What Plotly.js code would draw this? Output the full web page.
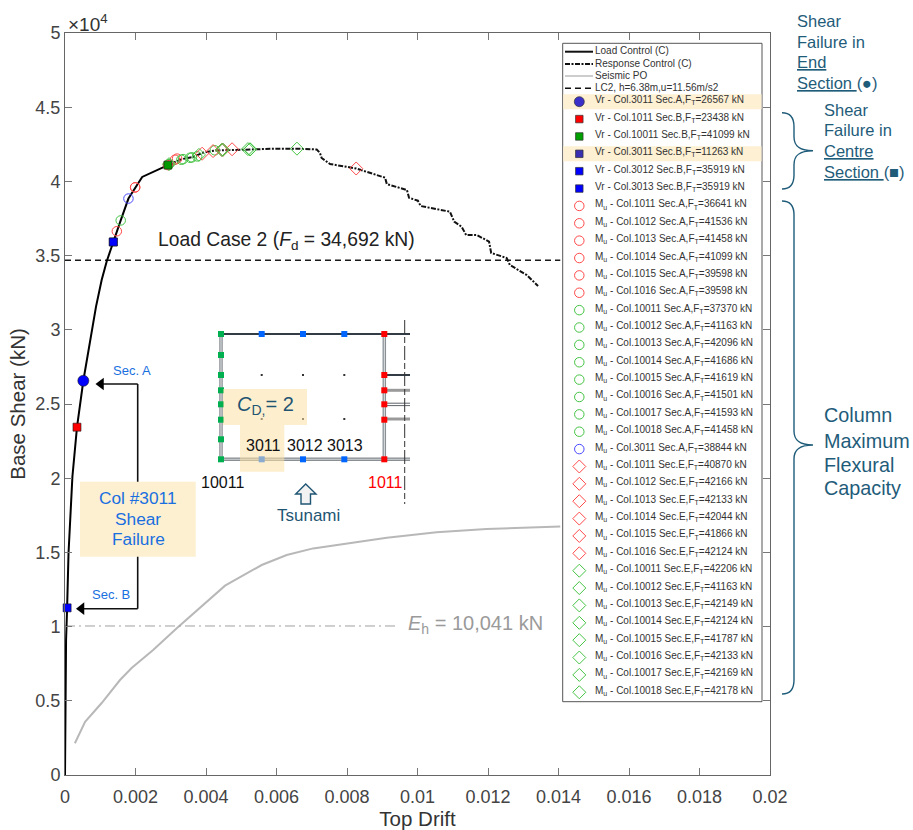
<!DOCTYPE html>
<html><head><meta charset="utf-8">
<script src="https://cdn.plot.ly/plotly-3.0.1.min.js"></script>
<style>html,body{margin:0;padding:0;background:#fff}#c{width:913px;height:830px}</style>
</head><body><div id="c"></div>
<script>
// ---- data ----
const loadDrift=[0,0.00003,0.00006,0.0001,0.00021,0.00034,0.00052,0.00062,0.00088,0.00104,0.00118,0.00137,0.00147,0.00158,0.0018,0.00199,0.00219,0.00292];
const loadShear=[0,9100,11263,14960,20100,23438,26567,27960,31560,33360,34590,35919,36641,37370,38844,39598,40300,41099];
const respDrift=[0.00292,0.00331,0.00363,0.00391,0.00425,0.00473,0.00525,0.00590,0.00657,0.00714,0.00723,0.00728,0.00752,0.00826,0.00908,0.00913,0.0097,0.00976,0.01001,0.01009,0.01092,0.01104,0.01125,0.01138,0.01168,0.01203,0.01209,0.01253,0.01262,0.0131,0.01342];
const respShear=[41099,41500,41640,41930,42080,42130,42150,42200,42206,42150,41930,41580,41170,40870,40250,39820,39420,38900,38700,38340,37960,37290,36950,36390,36390,35940,35180,34840,34370,33690,32950];
const poDrift=[0.00028,0.00057,0.00104,0.00156,0.00189,0.0025,0.00317,0.00454,0.00558,0.00629,0.00704,0.00799,0.00913,0.01054,0.01196,0.01405];
const poShear=[2136,3590,4850,6400,7210,8420,9885,12760,14150,14825,15270,15610,15990,16350,16570,16750];
const designShear=34692, designEnd=0.01405;
const eqShear=10041, eqEnd=0.00945;

const vrLabels=['Col.3011 Sec.A','Col.1011 Sec.B','Col.10011 Sec.B','Col.3011 Sec.B','Col.3012 Sec.B','Col.3013 Sec.B'];
const vrForce=[26567,23438,41099,11263,35919,35919];
const vrDrift=[0.00052,0.00034,0.00292,0.00006,0.00137,0.00137];
const vrColor=['#0000ff','#ff0000','#009a00','#0000ff','#0000ff','#0000ff'];
const vrKeyColor=['#3a2fc8','#ff0000','#00a000','#3a2fb0','#0000ff','#0000ff'];
const vrSymbol=['circle','square','square','square','square','square'];

const muLabels=['Col.1011 Sec.A','Col.1012 Sec.A','Col.1013 Sec.A','Col.1014 Sec.A','Col.1015 Sec.A','Col.1016 Sec.A',
 'Col.10011 Sec.A','Col.10012 Sec.A','Col.10013 Sec.A','Col.10014 Sec.A','Col.10015 Sec.A','Col.10016 Sec.A','Col.10017 Sec.A','Col.10018 Sec.A','Col.3011 Sec.A',
 'Col.1011 Sec.E','Col.1012 Sec.E','Col.1013 Sec.E','Col.1014 Sec.E','Col.1015 Sec.E','Col.1016 Sec.E',
 'Col.10011 Sec.E','Col.10012 Sec.E','Col.10013 Sec.E','Col.10014 Sec.E','Col.10015 Sec.E','Col.10016 Sec.E','Col.10017 Sec.E','Col.10018 Sec.E'];
const muForce=[36641,41536,41458,41099,39598,39598,37370,41163,42096,41686,41619,41501,41593,41458,38844,
 40870,42166,42133,42044,41866,42124,42206,41163,42149,42124,41787,42133,42169,42178];
const muDrift=[0.00147,0.00318,0.00312,0.00292,0.00199,0.00199,0.00158,0.00295,0.00425,0.00375,0.0036,0.00335,0.00355,0.0033,0.0018,
 0.00826,0.00474,0.00448,0.0042,0.00389,0.00445,0.00658,0.00295,0.00525,0.00445,0.0038,0.00448,0.00525,0.00519];
const muColor=['#ff4a4a','#ff4a4a','#ff4a4a','#ff4a4a','#ff4a4a','#ff4a4a',
 '#45c445','#45c445','#45c445','#45c445','#45c445','#45c445','#45c445','#45c445','#4a4aff',
 '#ff4a4a','#ff4a4a','#ff4a4a','#ff4a4a','#ff4a4a','#ff4a4a',
 '#45c445','#45c445','#45c445','#45c445','#45c445','#45c445','#45c445','#45c445'];
const muSymbol=muLabels.map(s=>s.endsWith('Sec.E')?'diamond-open':'circle-open');

const lineLabels=['Load Control (C)','Response Control (C)','Seismic PO','LC2, h=6.38m,u=11.56m/s2'];
const xTicks=[0,0.002,0.004,0.006,0.008,0.01,0.012,0.014,0.016,0.018,0.02];
const xTickText=['0','0.002','0.004','0.006','0.008','0.01','0.012','0.014','0.016','0.018','0.02'];
const yTicks=[0,5000,10000,15000,20000,25000,30000,35000,40000,45000,50000];
const yTickText=['0','0.5','1','1.5','2','2.5','3','3.5','4','4.5','5'];

// inset frame columns (picture position on the overlay axis)
const greenY=[334,355,375,390.3,404.3,419.7,439.3,459.3];
const blueX=[261.7,303,344.3];
const blueY=[334,334,334,459.3,459.3,459.3];
const redY=[334,375,390.3,404.3,419.7,459.3];

// ---- layout helpers ----
const L=65,R=770,T=33,B=775,W=913,H=830;
const FONT='"Liberation Sans",Arial,sans-serif';
const px=x=>(x-L)/(R-L), py=y=>(B-y)/(B-T);
const annotations=[], shapes=[], traces=[];
function txt(x,y,text,size,color,anchor,extra){annotations.push(Object.assign({xref:'paper',yref:'paper',x:px(x),y:py(y),text,showarrow:false,
  xanchor:anchor||'center',yanchor:'middle',font:{family:FONT,size,color},borderpad:0,borderwidth:0},extra||{}));}
function rect(x0,y0,x1,y1,fill,opts){shapes.push(Object.assign({type:'rect',xref:'paper',yref:'paper',x0:px(x0),x1:px(x1),y0:py(y0),y1:py(y1),fillcolor:fill,line:{width:0},layer:'below'},opts||{}));}
function seg(x0,y0,x1,y1,color,width,opts){shapes.push(Object.assign({type:'line',xref:'paper',yref:'paper',x0:px(x0),x1:px(x1),y0:py(y0),y1:py(y1),line:{color,width},layer:'below'},opts||{}));}
function path(pts,color,width,fill){
  const d=pts.map(p=>typeof p==='string'?p:px(p[0])+','+py(p[1])).join(' ');
  shapes.push({type:'path',xref:'paper',yref:'paper',path:d,line:{color,width},fillcolor:fill||'rgba(0,0,0,0)',layer:'above'});
}
const scr=(x,y,mode,o)=>Object.assign({x,y,mode,xaxis:'x2',yaxis:'y2',showlegend:false,hoverinfo:'skip',cliponaxis:false},o);
const main=(x,y,mode,o)=>Object.assign({x,y,mode,showlegend:false,hoverinfo:'skip',cliponaxis:false},o);

// ---- main chart ----
traces.push(main(poDrift,poShear,'lines',{line:{color:'#b8b8b8',width:2}}));
traces.push(main([0,designEnd],[designShear,designShear],'lines',{line:{color:'#1a1a1a',width:1.5,dash:'6px,4px'}}));
traces.push(main([0,eqEnd],[eqShear,eqShear],'lines',{line:{color:'#a0a0a0',width:1,dash:'10px,4px,2px,4px'}}));
traces.push(main(respDrift,respShear,'lines',{line:{color:'#111',width:2,dash:'5px,1.5px,2px,1.5px'}}));
traces.push(main(loadDrift,loadShear,'lines',{line:{color:'#000',width:2}}));
muLabels.forEach((l,i)=>traces.push(main([muDrift[i]],[muForce[i]],'markers',{marker:{
  symbol:muSymbol[i],color:muColor[i],size:muSymbol[i]==='circle-open'?9.5:10,line:{color:muColor[i],width:1}}})));
vrLabels.forEach((l,i)=>traces.push(main([vrDrift[i]],[vrForce[i]],'markers',{marker:{
  symbol:vrSymbol[i],color:vrColor[i],size:vrSymbol[i]==='circle'?11:8,line:{color:'#1a1a1a',width:0.6}}})));

// ---- drawn legend panel ----
const LX0=562.7,LX1=762,LY0=43.3,LY1=701.7,KEY=579.3,TX=595,ROW0=101.7,PITCH=17.37;
rect(LX0,LY0,LX1,LY1,'#ffffff',{line:{color:'#555',width:1}});
const rowY=i=>ROW0+i*PITCH;
rect(LX0+0.5,rowY(0)-7.5,LX1-0.5,rowY(0)+7.5,'#fdf0d3');
rect(LX0+0.5,rowY(3)-7.5,LX1-0.5,rowY(3)+7.5,'#fdf0d3');
const lineRow=[51.7,64,76,88.3];
const lineStyle=[{color:'#111',width:2},{color:'#111',width:1.8,dash:'5px,1.5px,2px,1.5px'},{color:'#bdbdbd',width:1.5},{color:'#111',width:1.5,dash:'6px,4px'}];
lineLabels.forEach((l,i)=>traces.push(scr([565,593],[lineRow[i],lineRow[i]],'lines',{line:lineStyle[i]})));
traces.push(scr(lineRow.map(()=>TX),lineRow,'text',{text:lineLabels,textposition:'middle right',textfont:{family:FONT,size:10,color:'#333'}}));
vrLabels.forEach((l,i)=>traces.push(scr([KEY],[rowY(i)],'markers',{marker:{symbol:vrSymbol[i],color:vrKeyColor[i],size:vrSymbol[i]==='circle'?10:7.5,line:{color:'#333',width:0.7}}})));
muLabels.forEach((l,i)=>traces.push(scr([KEY],[rowY(i+6)],'markers',{marker:{symbol:muSymbol[i],color:muColor[i],size:muSymbol[i]==='circle-open'?9.5:10,line:{color:muColor[i],width:1}}})));
const rowLabels=vrLabels.map((l,i)=>'Vr - '+l+',F<sub>T</sub>='+vrForce[i]+' kN').concat(muLabels.map((l,i)=>'M<sub>u</sub> - '+l+',F<sub>T</sub>='+muForce[i]+' kN'));
traces.push(scr(rowLabels.map(()=>TX),rowLabels.map((l,i)=>rowY(i)-1),'text',{text:rowLabels,textposition:'middle right',textfont:{family:FONT,size:10,color:'#333'}}));

// ---- inset frame ----
const dark='#333b44', mid='#8a8f94';
seg(221,334,410,334,dark,2);
seg(221,459.3,410,459.3,mid,3.5); seg(221,459.3,410,459.3,'#ffffff',0.6);
seg(221,334,221,459.3,mid,3.5); seg(221,334,221,459.3,'#ffffff',0.8);
seg(384.3,334,384.3,459.3,mid,3.5); seg(384.3,334,384.3,459.3,'#ffffff',0.8);
seg(384.3,375,410,375,dark,2);
seg(384.3,390.3,410,390.3,'#9a9a9a',3);
seg(384.3,403.2,410,403.2,dark,0.8); seg(384.3,405.6,410,405.6,dark,0.8);
seg(384.3,419,410,419,'#9a9a9a',3);
seg(404.7,320,404.7,504,'#333',1,{line:{color:'#333',width:1,dash:'14px,3px,6px,3px'}});
traces.push(scr(greenY.map(()=>221),greenY,'markers',{marker:{symbol:'square',color:'#00b050',size:6}}));
traces.push(scr(blueX.concat(blueX),blueY,'markers',{marker:{symbol:'square',color:'#0066ff',size:6}}));
traces.push(scr(redY.map(()=>384.3),redY,'markers',{marker:{symbol:'square',color:'#ff0000',size:6}}));
traces.push(scr(blueX.concat(blueX),[375,375,375,419,419,419],'markers',{marker:{symbol:'square',color:'#333',size:2}}));
rect(223,389,307,425,'rgba(252,226,165,0.55)',{layer:'above'});
rect(240,425,284.3,471.7,'rgba(252,226,165,0.55)',{layer:'above'});
txt(265,406,'<i>C</i><sub>D,</sub>= 2',20,'#1f5573');
txt(263,445,'3011',16,'#111'); txt(305,445,'3012',16,'#111'); txt(345,445,'3013',16,'#111');
txt(222.7,482.7,'10011',16,'#111'); txt(385.7,482.7,'1011',16,'#ff0000');
txt(308.7,515.7,'Tsunami',17,'#1f5573');
path(['M',[305.7,484],'L',[295.7,494],'L',[301,494],'L',[301,504],'L',[310.5,504],'L',[310.5,494],'L',[316,494],'Z'],'#1f5573',1.4,'#f2f2f2');

// ---- callouts ----
seg(137.7,384,137.7,608.7,'#111',1.6);
seg(137.7,384,100,384,'#111',1.6);
seg(137.7,608.7,84,608.7,'#111',1.6);
traces.push(scr([101,81.5],[384,608.7],'markers',{marker:{symbol:'triangle-left',color:'#000',size:11}}));
rect(80,481.7,195.7,556.7,'#fdf0d0');
txt(138,498,'Col #3011',17.3,'#1a6fe0'); txt(138,519,'Shear',17.3,'#1a6fe0'); txt(138,539,'Failure',17.3,'#1a6fe0');
txt(131.7,370,'Sec. A',13,'#1a6fe0'); txt(110.7,594,'Sec. B',13,'#1a6fe0');
txt(286.5,241,'Load Case 2 (<i>F</i><sub>d</sub> = 34,692 kN)',19.3,'#222');
txt(408,624,'<i>E</i><sub>h</sub> = 10,041 kN',20,'#9a9a9a','left');
txt(68,23,'×10<sup>4</sup>',19,'#333','left');

// ---- right hand notes ----
const noteCol='#1f5c7a';
[['Shear',21],['Failure in',42],['<u>End</u>',62],['<u>Section </u>(●)',83]].forEach(a=>txt(796.7,a[1],a[0],16.5,noteCol,'left'));
[['Shear',110],['Failure in',130],['<u>Centre</u>',151],['<u>Section </u>(■)',172]].forEach(a=>txt(824,a[1],a[0],16.5,noteCol,'left'));
[['Column',415],['Maximum',441],['Flexural',465],['Capacity',488]].forEach(a=>txt(824,a[1],a[0],19.8,noteCol,'left'));
function brace(y0,ym,y1){
  const xa=782,xb=794,xc=813;
  path(['M',[xa,y0],'C',[790,y0],[xb,y0+5],[xb,y0+14],'L',[xb,ym-14],'C',[xb,ym-5],[799,ym],[xc,ym],'C',[799,ym],[xb,ym+5],[xb,ym+14],'L',[xb,y1-14],'C',[xb,y1-5],[790,y1],[xa,y1]],'#1f5c7a',1.4);
}
brace(112.7,150.7,189);
brace(201,445,694);

const layout={width:W,height:H,autosize:false,margin:{l:L,r:W-R,t:T,b:H-B,pad:0},paper_bgcolor:'#fff',plot_bgcolor:'#fff',
 showlegend:false,hovermode:false,font:{family:FONT,color:'#333'},
 xaxis:{range:[0,0.02],tickvals:xTicks,ticktext:xTickText,ticks:'inside',ticklen:7,tickcolor:'#777',tickwidth:1,showgrid:false,zeroline:false,ticklabelstandoff:5,
  showline:true,linecolor:'#666',linewidth:1,mirror:'ticks',tickfont:{size:18,color:'#444'},title:{text:'Top Drift',font:{size:20.5,color:'#333'},standoff:4}},
 yaxis:{range:[0,50000],tickvals:yTicks,ticktext:yTickText,ticks:'inside',ticklen:7,tickcolor:'#777',tickwidth:1,showgrid:false,zeroline:false,
  showline:true,linecolor:'#666',linewidth:1,mirror:'ticks',tickfont:{size:18,color:'#444'},title:{text:'Base Shear (kN)',font:{size:20.5,color:'#333'},standoff:4}},
 xaxis2:{overlaying:'x',anchor:'y2',range:[L,R],visible:false,fixedrange:true},
 yaxis2:{overlaying:'y',anchor:'x2',range:[B,T],visible:false,fixedrange:true},
 annotations,shapes};
Plotly.newPlot('c',traces,layout,{displayModeBar:false,staticPlot:true});
</script></body></html>
